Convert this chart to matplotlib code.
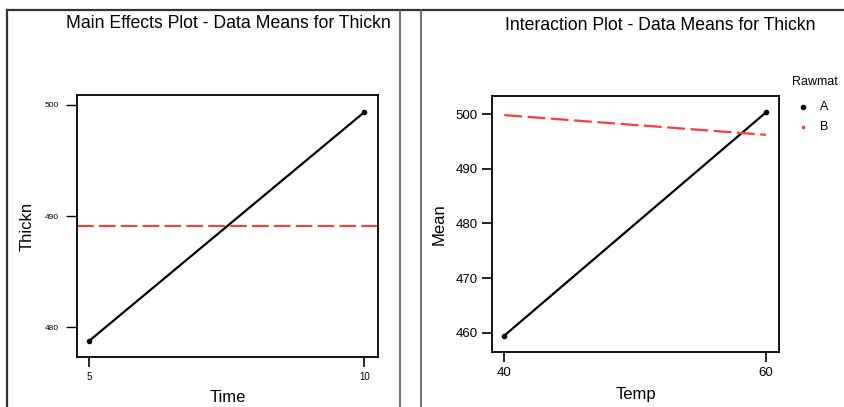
import matplotlib
matplotlib.use("Agg")
import matplotlib.pyplot as plt
from matplotlib.lines import Line2D

# data
time_levels = [5, 10]
time_means = [478.75, 499.35]
grand_mean = 489.1

temp_levels = [40, 60]
rawmat_a = [459.5, 500.3]
rawmat_b = [499.8, 496.2]

plt.rcParams['font.family'] = ['Liberation Sans', 'DejaVu Sans']

W, H = 844, 407
fig = plt.figure(figsize=(W / 100, H / 100), dpi=100)

def px_axes(x0, y0, x1, y1):
    # pixel box (top-left origin) -> figure fraction
    return fig.add_axes([x0 / W, 1 - y1 / H, (x1 - x0) / W, (y1 - y0) / H])

# panel frame lines
frame_kw = dict(color='#333333', lw=1.6, transform=fig.transFigure)
fig.add_artist(Line2D([7 / W, 7 / W], [0, 1 - 10 / H], **frame_kw))
fig.add_artist(Line2D([7 / W, 1], [1 - 10 / H, 1 - 10 / H], **frame_kw))
fig.add_artist(Line2D([400 / W, 400 / W], [0, 1 - 10 / H], color='#55556a', lw=1.2, transform=fig.transFigure))
fig.add_artist(Line2D([421 / W, 421 / W], [0, 1 - 10 / H], color='#55556a', lw=1.2, transform=fig.transFigure))

# ---- main effects plot ----
ax1 = px_axes(77, 95, 378, 357)
ax1.plot(time_levels, time_means, color='black', lw=1.6, marker='o', ms=3)
ax1.axhline(grand_mean, color='#ff3b3b', lw=1.5, ls=(0, (8, 2.5)))
ax1.set_xlim(4.78, 10.25)
ax1.set_ylim(477.3, 500.9)
ax1.set_xticks(time_levels)
ax1.set_yticks([480, 490, 500])
ax1.tick_params(axis='y', labelsize=6, length=8, width=1, direction='out', pad=5)
ax1.tick_params(axis='x', labelsize=7, length=7, width=1.2, direction='out')
for s in ax1.spines.values():
    s.set_linewidth(1.3)
ax1.set_ylabel('Thickn', fontsize=12, labelpad=7)
ax1.set_xlabel('Time', fontsize=12, labelpad=6)
fig.text(228 / W, 1 - 23 / H, 'Main Effects Plot - Data Means for Thickn',
         ha='center', va='center', fontsize=12.7)

# ---- interaction plot ----
ax2 = px_axes(492, 96, 779, 352)
ax2.plot(temp_levels, rawmat_a, color='black', lw=1.6, marker='o', ms=3, label='A')
ax2.plot(temp_levels, rawmat_b, color='#ff3b3b', lw=1.6, ls=(0, (8, 2.5)), label='B')
ax2.set_xlim(39.06, 61.0)
ax2.set_ylim(456.5, 503.3)
ax2.set_xticks(temp_levels)
ax2.set_yticks([460, 470, 480, 490, 500])
ax2.tick_params(labelsize=9.5, length=7, width=1.2, direction='out')
for s in ax2.spines.values():
    s.set_linewidth(1.3)
ax2.set_ylabel('Mean', fontsize=12, labelpad=6)
ax2.set_xlabel('Temp', fontsize=12, labelpad=6)
fig.text(660 / W, 1 - 25 / H, 'Interaction Plot - Data Means for Thickn',
         ha='center', va='center', fontsize=12.7)

# legend drawn by hand like the Minitab key
fig.text(815 / W, 1 - 82 / H, 'Rawmat', ha='center', va='center', fontsize=9)
fig.add_artist(Line2D([803 / W], [1 - 107 / H], marker='o', ms=3, color='black', transform=fig.transFigure))
fig.add_artist(Line2D([803 / W], [1 - 127 / H], marker='s', ms=1.8, color='#ff3b3b', transform=fig.transFigure))
fig.text(820 / W, 1 - 107 / H, 'A', ha='left', va='center', fontsize=9)
fig.text(820 / W, 1 - 127 / H, 'B', ha='left', va='center', fontsize=9)

fig.savefig('out.png', dpi=100)
